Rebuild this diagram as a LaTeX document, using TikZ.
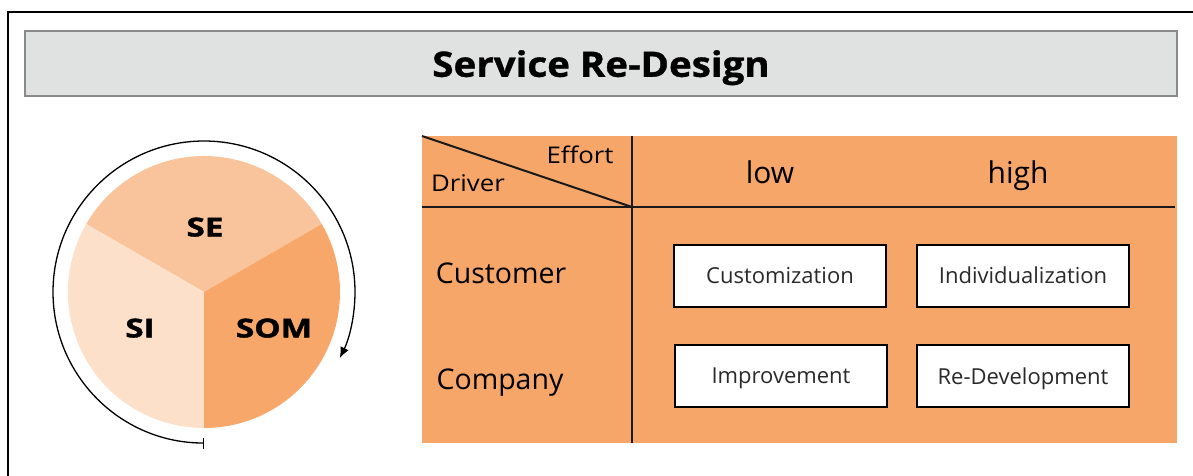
\documentclass[tikz,border=0pt]{standalone}
\usepackage{fontspec}
\setmainfont{Open Sans}
\newfontfamily\titlefont[FakeStretch=1.1,FakeBold=1]{Open Sans}
\newfontfamily\slicefont[FakeStretch=1.28,FakeBold=1.5]{Open Sans}
\newfontfamily\headfont[FakeStretch=1.12]{Open Sans}
\usetikzlibrary{arrows.meta,calc}
\definecolor{titlefill}{HTML}{E0E2E1}
\definecolor{titleline}{HTML}{8A8A8A}
\definecolor{seFill}{HTML}{F9C49B}
\definecolor{siFill}{HTML}{FCE0CA}
\definecolor{somFill}{HTML}{F7A76A}
\definecolor{tblFill}{HTML}{F7A66A}
\definecolor{boxText}{HTML}{2A2A2A}
\tikzset{
  every node/.style={text depth=0pt},
  titlebox/.style={draw=titleline, line width=2pt, fill=titlefill,
    minimum width=1152pt, minimum height=65pt, inner sep=0pt,
    font=\titlefont\fontsize{35}{35}\selectfont\bfseries},
  slice/.style={font=\slicefont\fontsize{26}{26}\selectfont\bfseries, inner sep=0pt},
  head/.style={font=\headfont\fontsize{23}{23}\selectfont, inner sep=0pt},
  colhead/.style={font=\fontsize{30}{30}\selectfont, inner sep=0pt},
  rowhead/.style={font=\fontsize{28.5}{28.5}\selectfont, inner sep=0pt},
  cell/.style={draw=black, line width=2pt, fill=white, minimum width=212pt,
    minimum height=62pt, inner sep=0pt, text=boxText,
    font=\fontsize{22}{22}\selectfont},
  grid/.style={line width=2pt, draw=black!90},
}
\begin{document}
\begin{tikzpicture}[x=1pt,y=-1pt]
\useasboundingbox (0,0) rectangle (1193,475);
% outer frame (left and top edges)
\draw[line width=2.5pt] (8,476) -- (8,12) -- (1194,12);
% title bar
\node[titlebox] (title) at (601,63.5) {Service Re-Design};

% pie of the three phases
\coordinate (pc) at (204,292);
\fill[seFill]  (pc) -- ++(-30:136) arc[start angle=-30, end angle=-150, radius=136] -- cycle;
\fill[siFill]  (pc) -- ++(-150:136) arc[start angle=-150, end angle=-270, radius=136] -- cycle;
\fill[somFill] (pc) -- ++(90:136) arc[start angle=90, end angle=-30, radius=136] -- cycle;
\node[slice] (se)  at (205,227) {SE};
\node[slice] (si)  at (140,328) {SI};
\node[slice] (som) at (274,328) {SOM};
% cycle arrow around the pie
\draw[line width=1.3pt, {Bar[width=11pt]}-{Latex[length=11pt,width=9pt]}]
  ($(pc)+(0,151)$) arc[start angle=90, end angle=386, radius=151];

% table
\coordinate (tl) at (422,136);
\coordinate (br) at (1177,443);
\fill[tblFill] (tl) rectangle (br);
\coordinate (vtop) at (632,136);
\coordinate (vbot) at (632,443);
\coordinate (hl) at (422,207);
\coordinate (hr) at (1175,207);
\coordinate (corner) at (632,207);
\draw[grid] (vtop) -- (vbot);
\draw[grid] (hl) -- (hr);
\draw[grid] (tl) -- (corner);

\node[head] (effort) at (580,155) {Effort};
\node[head] (driver) at (468,183) {Driver};
\node[colhead] (low)  at (770,172) {low};
\node[colhead] (high) at (1018,172) {high};
\node[rowhead] (cust) at (501,273) {Customer};
\node[rowhead] (comp) at (500,379) {Company};

\node[cell] (c11) at (780,275.5) {Customization};
\node[cell] (c12) at (1023,275.5) {Individualization};
\node[cell] (c21) at (781,376) {Improvement};
\node[cell] (c22) at (1023,376) {Re-Development};
\end{tikzpicture}
\end{document}
